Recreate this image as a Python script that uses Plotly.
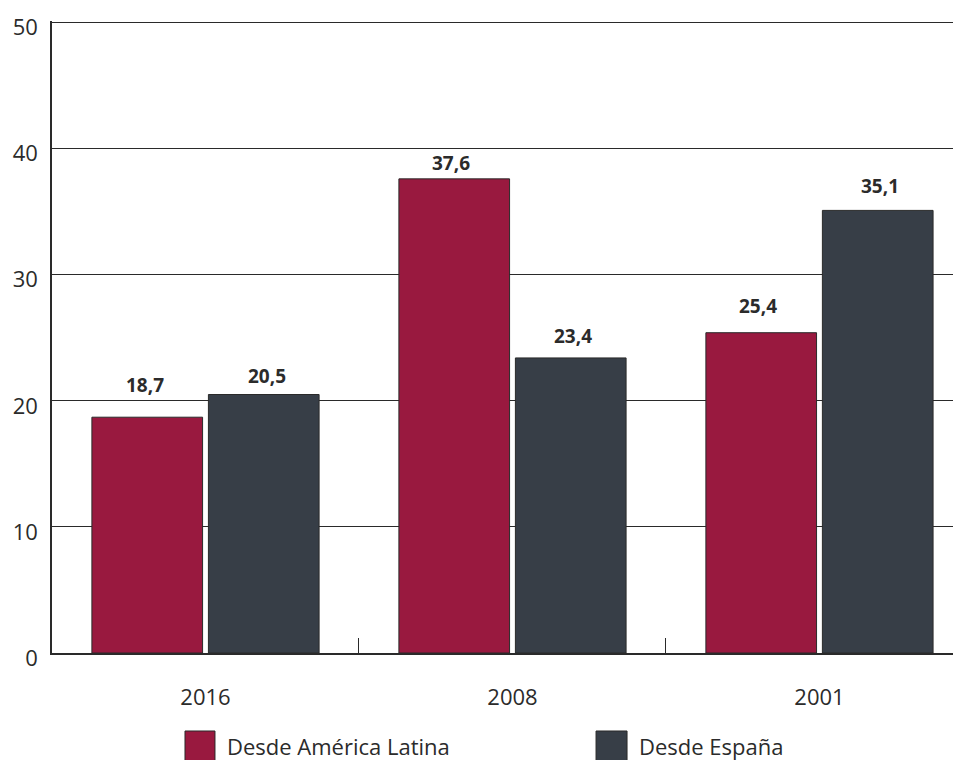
import plotly.graph_objects as go

years = ["2016", "2008", "2001"]
latam = [18.7, 37.6, 25.4]
espana = [20.5, 23.4, 35.1]
series_names = ["Desde América Latina", "Desde España"]
colors = ["#99193f", "#373e47"]
y_ticks = [0, 10, 20, 30, 40, 50]

# label placement (pixels above each bar top), as in the original layout
label_lift = {"latam": [32, 16, 27], "espana": [19, 22, 24.5]}

FONT = "Open Sans, Noto Sans, sans-serif"
TXT = "#2b2b2b"

fig = go.Figure()
for name, vals, col in zip(series_names, [latam, espana], colors):
    fig.add_trace(go.Bar(
        x=years, y=vals, name=name,
        marker=dict(color=col, line=dict(color="#2a2a2a", width=1)),
        showlegend=False,
    ))

# value labels above bars (x given as category index)
for shift, vals, lifts in zip([-61, 61], [latam, espana],
                              [label_lift["latam"], label_lift["espana"]]):
    for i, (v, lift) in enumerate(zip(vals, lifts)):
        fig.add_annotation(
            x=i, y=v, xref="x", yref="y", showarrow=False,
            text=f"{v:.1f}".replace(".", ","),
            xshift=shift, yshift=lift, yanchor="middle",
            font=dict(family=FONT, size=19, color=TXT, weight="bold"),
        )

# custom legend (large square swatches)
legend_pos = [(0.1463, 0.1793, 0.1903), (0.5985, 0.6326, 0.6436)]
for (x0, x1, xt), name, col in zip(legend_pos, series_names, colors):
    fig.add_shape(type="rect", xref="paper", yref="paper",
                  x0=x0, x1=x1, y0=-0.1709, y1=-0.1234,
                  fillcolor=col, line=dict(color="#2a2a2a", width=1))
    fig.add_annotation(xref="paper", yref="paper", x=xt, y=-0.1472,
                       xanchor="left", yanchor="middle", showarrow=False,
                       text=name, font=dict(family=FONT, size=22, color=TXT))

fig.update_layout(
    width=953, height=752,
    margin=dict(l=44, r=0, t=13, b=107),
    paper_bgcolor="white", plot_bgcolor="white",
    barmode="group", bargap=0.241, bargroupgap=0.05,
    separators=",.",
    font=dict(family=FONT, color=TXT),
)
fig.update_xaxes(
    type="category", range=[-0.5, 2.461], automargin=False,
    showline=True, linecolor="#2a2a2a", linewidth=2,
    ticks="inside", tickson="boundaries", ticklen=15, tickwidth=1, tickcolor="#2a2a2a",
    showgrid=False, tickfont=dict(family=FONT, size=22, color=TXT),
    ticklabelstandoff=24,
)
fig.update_yaxes(
    range=[0, 50.12], tickvals=y_ticks, automargin=False,
    showline=True, linecolor="#2a2a2a", linewidth=1.5,
    showgrid=True, gridcolor="#2a2a2a", gridwidth=1,
    zeroline=False, ticks="",
    tickfont=dict(family=FONT, size=22, color=TXT),
    ticklabelstandoff=8, ticklabelshift=5, ticklabeloverflow="allow",
)

fig.write_html("out.html")
